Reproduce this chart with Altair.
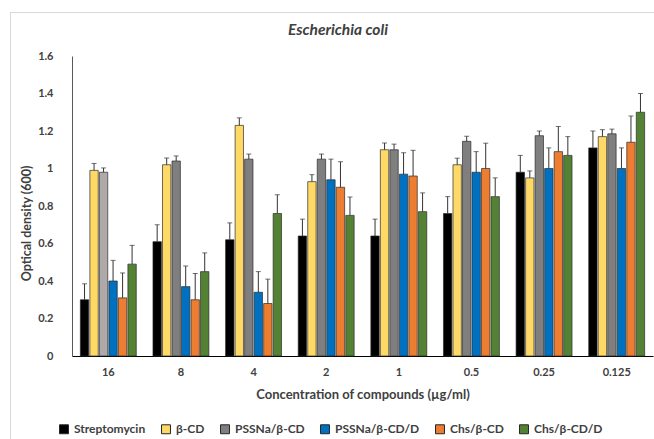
import altair as alt
import pandas as pd

concs = ["16", "8", "4", "2", "1", "0.5", "0.25", "0.125"]
series = ["Streptomycin", "β-CD", "PSSNa/β-CD", "PSSNa/β-CD/D", "Chs/β-CD", "Chs/β-CD/D"]
colors = ["#000000", "#FFD966", "#7F7F7F", "#0070C0", "#ED7D31", "#548235"]

strep = [0.30, 0.61, 0.62, 0.64, 0.64, 0.76, 0.98, 1.11]
strep_err = [0.085, 0.09, 0.09, 0.09, 0.09, 0.09, 0.09, 0.09]
bcd = [0.99, 1.02, 1.23, 0.93, 1.10, 1.02, 0.95, 1.17]
bcd_err = [0.037, 0.036, 0.04, 0.037, 0.036, 0.035, 0.037, 0.037]
pss = [0.98, 1.04, 1.05, 1.05, 1.10, 1.145, 1.175, 1.185]
pss_err = [0.023, 0.027, 0.027, 0.027, 0.03, 0.027, 0.025, 0.025]
pssd = [0.40, 0.37, 0.34, 0.94, 0.97, 0.98, 1.00, 1.00]
pssd_err = [0.11, 0.11, 0.11, 0.11, 0.114, 0.11, 0.11, 0.11]
chs = [0.31, 0.30, 0.28, 0.90, 0.96, 1.00, 1.09, 1.14]
chs_err = [0.133, 0.14, 0.13, 0.136, 0.137, 0.135, 0.134, 0.14]
chsd = [0.49, 0.45, 0.76, 0.75, 0.77, 0.85, 1.07, 1.30]
chsd_err = [0.10, 0.10, 0.10, 0.098, 0.10, 0.10, 0.10, 0.10]
y_ticks = [0, 0.2, 0.4, 0.6, 0.8, 1, 1.2, 1.4, 1.6]
title_text = ["Escherichia coli"]

vals = [strep, bcd, pss, pssd, chs, chsd]
errs = [strep_err, bcd_err, pss_err, pssd_err, chs_err, chsd_err]

rows = []
for s, v, e in zip(series, vals, errs):
    for c, vv, ee in zip(concs, v, e):
        rows.append({"conc": c, "series": s, "value": vv, "top": vv + ee})
df = pd.DataFrame(rows)

FONT = "Lato"
TXT = "#404040"
XT = "Concentration of compounds (µg/ml)"
YT = "Optical density (600)"

xaxis = alt.Axis(labelAngle=0, ticks=False, labelPadding=10, domainColor="#000000",
                 labelOverlap=False,
                 labelFont=FONT, labelFontWeight="bold", labelFontSize=11, labelColor=TXT,
                 titleFont=FONT, titleFontWeight="bold", titleFontSize=13, titleColor=TXT,
                 titlePadding=11)
yaxis = alt.Axis(values=y_ticks, format=".1~f", labelOverlap=False,
                 grid=False, ticks=False, tickSize=0, labelPadding=19, domainColor="#595959",
                 labelFont=FONT, labelFontWeight="bold", labelFontSize=11, labelColor=TXT,
                 titleFont=FONT, titleFontWeight="bold", titleFontSize=12.5, titleColor=TXT,
                 titleX=-39, titleY=167)
xscale = alt.Scale(paddingInner=0.23, paddingOuter=0.115)
yscale = alt.Scale(domain=[0, 1.6], nice=False)

x = alt.X("conc:N", sort=concs, title=XT, scale=xscale, axis=xaxis)
y_val = alt.Y("value:Q", title=YT, scale=yscale, axis=yaxis)
y_top = alt.Y("top:Q", title=YT, scale=yscale, axis=yaxis)
xo = alt.XOffset("series:N", sort=series, scale=alt.Scale(paddingInner=0.12))

color = alt.condition(
    "datum.conc == '16' && datum.series == 'PSSNa/β-CD'",
    alt.value("#AEAAAA"),
    alt.Color("series:N", sort=series, scale=alt.Scale(domain=series, range=colors),
              legend=alt.Legend(title=None, orient="none", direction="horizontal",
                                legendX=-14, legendY=367, symbolType="square", symbolSize=80,
                                symbolStrokeColor="#262626", symbolStrokeWidth=1,
                                labelFont=FONT, labelFontWeight="bold", labelFontSize=12,
                                labelColor=TXT, columnPadding=13, labelOffset=4)),
)

bars = alt.Chart(df).mark_bar(stroke="#262626", strokeWidth=0.8, strokeOpacity=0.85).encode(
    x=x, xOffset=xo, y=y_val, color=color
)
whisk = alt.Chart(df).mark_rule(color="#333333", strokeWidth=1).encode(
    x=x, xOffset=xo, y=y_val, y2="top:Q"
)
caps = alt.Chart(df).mark_tick(color="#333333", thickness=1, size=5).encode(
    x=x, xOffset=xo, y=y_top
)
frame_left = alt.Chart(df).mark_rule(color="#D9D9D9", strokeWidth=1).encode(
    x=alt.value(-61.5), y=alt.value(-43.5), y2=alt.value(400)
)
frame_top = alt.Chart(df).mark_rule(color="#D9D9D9", strokeWidth=1).encode(
    x=alt.value(-61.5), x2=alt.value(600), y=alt.value(-43.5)
)
title = alt.Chart(pd.DataFrame({"t": title_text})).mark_text(
    font=FONT, fontSize=15.5, fontStyle="italic", fontWeight="bold", color=TXT,
    align="center", baseline="middle"
).encode(x=alt.value(266), y=alt.value(-26), text="t:N")

chart = alt.layer(bars, whisk, caps, frame_left, frame_top, title).properties(
    width=581, height=300,
    autosize=alt.AutoSizeParams(type="none"),
    padding={"left": 72, "top": 56, "right": 1, "bottom": 83},
).configure_view(stroke=None).configure_axis(labelOverlap=False)

chart.save("out.html", embed_options={"renderer": "svg", "actions": False})
